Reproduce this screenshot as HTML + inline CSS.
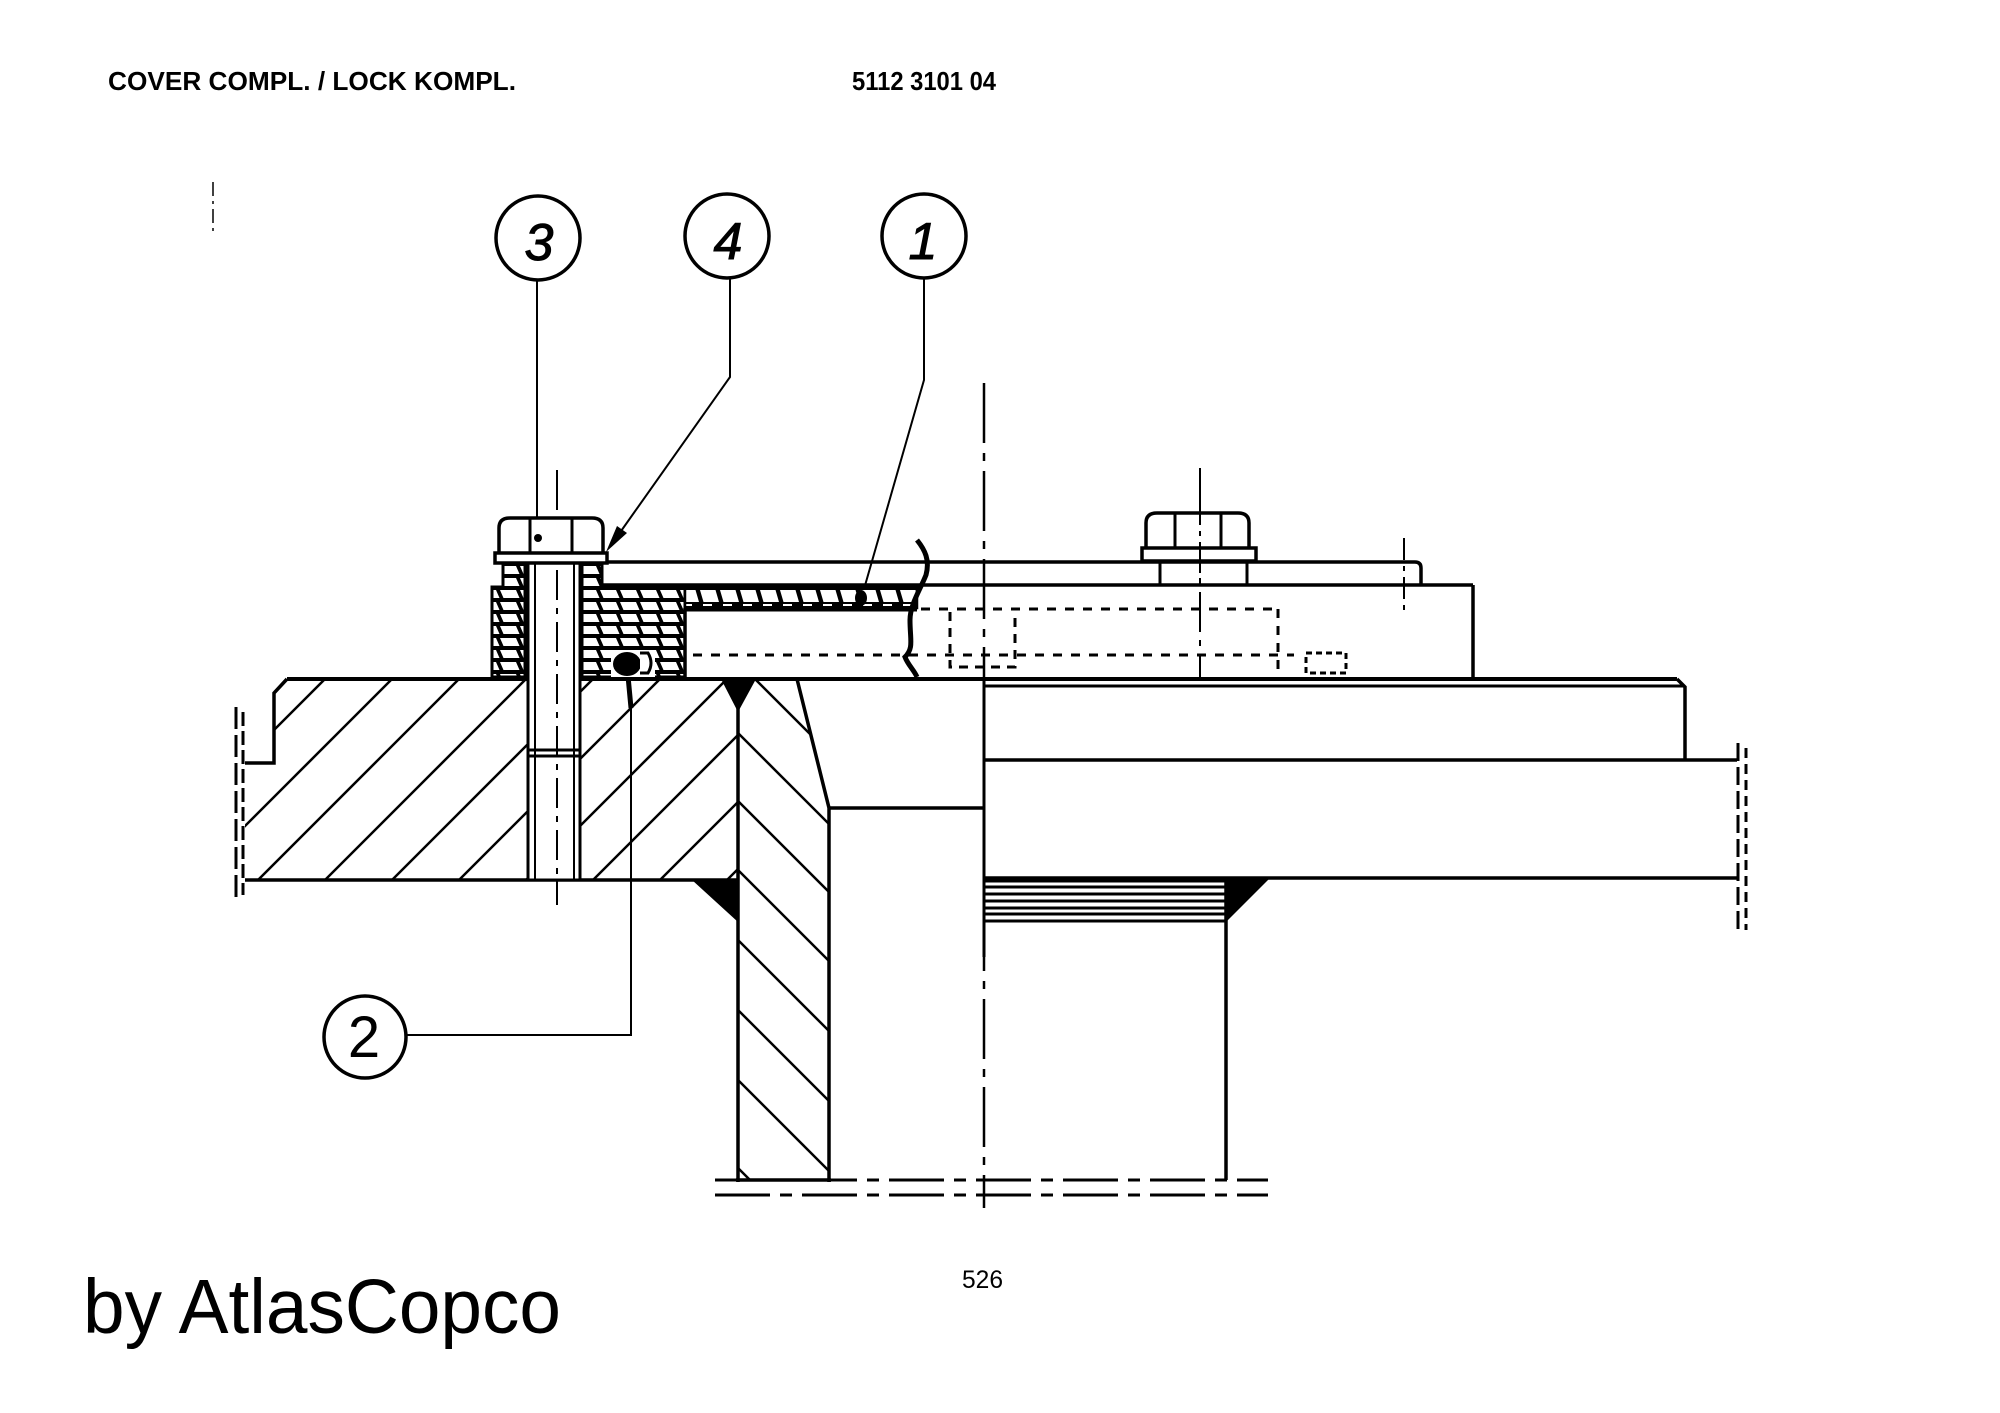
<!DOCTYPE html>
<html><head><meta charset="utf-8"><style>
html,body{margin:0;padding:0;background:#fff;}
svg{display:block;}
</style></head><body>
<svg width="2000" height="1413" viewBox="0 0 2000 1413" xmlns="http://www.w3.org/2000/svg">
<defs>
  <pattern id="xh" width="20" height="12" patternUnits="userSpaceOnUse">
    <rect width="20" height="12" fill="#000"/>
    <polygon points="0,2 16,2 19.5,10 3.5,10" fill="#fff"/>
  </pattern>
  <pattern id="xs" width="20" height="23" patternUnits="userSpaceOnUse" y="585">
    <rect width="20" height="23" fill="#000"/>
    <polygon points="0,5 15.5,5 19,17 3.5,17" fill="#fff"/>
    <rect x="3" y="19" width="9" height="2" fill="#fff"/>
  </pattern>
  <clipPath id="flc"><path d="M245,763 H274 V693 L287,680 H528 V880 H245 Z M580,680 H738 V880 H580 Z"/></clipPath>
  <clipPath id="pwc"><path d="M738,680 H797 L829,808 V1180 H738 Z"/></clipPath>
</defs>
<rect width="2000" height="1413" fill="#fff"/>

<!-- header text -->
<text x="108" y="90" font-family="Liberation Sans, Arial, sans-serif" font-weight="bold" font-size="26" textLength="408" lengthAdjust="spacingAndGlyphs">COVER COMPL. / LOCK KOMPL.</text>
<text x="852" y="90" font-family="Liberation Sans, Arial, sans-serif" font-weight="bold" font-size="26" textLength="144" lengthAdjust="spacingAndGlyphs">5112 3101 04</text>

<!-- footer text -->
<text x="962" y="1288" font-family="Liberation Sans, Arial, sans-serif" font-size="25" textLength="41" lengthAdjust="spacingAndGlyphs">526</text>
<text x="83" y="1333" font-family="Liberation Sans, Arial, sans-serif" font-size="77" textLength="478" lengthAdjust="spacingAndGlyphs">by AtlasCopco</text>

<g fill="none" stroke="#000" stroke-linecap="butt">
  <!-- small top-left centre mark -->
  <line x1="213" y1="182" x2="213" y2="232" stroke-width="1.5" stroke-dasharray="14 5 3 5"/>

  <!-- balloons -->
  <circle cx="538" cy="238" r="42" stroke-width="3.5"/>
  <circle cx="727" cy="236" r="42" stroke-width="3.5"/>
  <circle cx="924" cy="236" r="42" stroke-width="3.5"/>
  <circle cx="365" cy="1037" r="41" stroke-width="3.5"/>

  <!-- leaders -->
  <line x1="537" y1="280" x2="537" y2="538" stroke-width="2"/>
  <polyline points="730,278 730,377 614,541" stroke-width="2"/>
  <polyline points="924,279 924,380 862,596" stroke-width="2"/>
  <polyline points="406,1035 631,1035 631,705" stroke-width="2"/>
  <line x1="628" y1="676" x2="631" y2="708" stroke-width="5"/>

  <!-- centre lines -->
  <line x1="984" y1="383" x2="984" y2="1208" stroke-width="2.5" stroke-dasharray="60 10 8 10"/>
  <line x1="984" y1="678" x2="984" y2="957" stroke-width="3"/>
  <line x1="557" y1="470" x2="557" y2="905" stroke-width="2" stroke-dasharray="40 8 6 8"/>
  <line x1="1200" y1="468" x2="1200" y2="677" stroke-width="2" stroke-dasharray="40 8 6 8"/>
  <line x1="1404" y1="538" x2="1404" y2="610" stroke-width="2" stroke-dasharray="22 6 5 6"/>

  <!-- flange hatching -->
  <g clip-path="url(#flc)" stroke-width="2.5">
    <line x1="324" y1="680" x2="124" y2="880"/>
    <line x1="391" y1="680" x2="191" y2="880"/>
    <line x1="458" y1="680" x2="258" y2="880"/>
    <line x1="525" y1="680" x2="325" y2="880"/>
    <line x1="592" y1="680" x2="392" y2="880"/>
    <line x1="659" y1="680" x2="459" y2="880"/>
    <line x1="726" y1="680" x2="526" y2="880"/>
    <line x1="793" y1="680" x2="593" y2="880"/>
    <line x1="860" y1="680" x2="660" y2="880"/>
    <line x1="927" y1="680" x2="727" y2="880"/>
  </g>
  <!-- pipe wall hatching -->
  <g clip-path="url(#pwc)" stroke-width="2.5">
    <line x1="700" y1="624" x2="900" y2="824"/>
    <line x1="700" y1="695" x2="900" y2="895"/>
    <line x1="700" y1="763" x2="900" y2="963"/>
    <line x1="700" y1="832" x2="900" y2="1032"/>
    <line x1="700" y1="902" x2="900" y2="1102"/>
    <line x1="700" y1="972" x2="900" y2="1172"/>
    <line x1="700" y1="1042" x2="900" y2="1242"/>
    <line x1="700" y1="1130" x2="900" y2="1330"/>
  </g>

  <!-- flange outline -->
  <path d="M245,763 H274 V693 L287,679" stroke-width="3.5"/>
  <line x1="287" y1="679" x2="1677" y2="679" stroke-width="4"/>
  <polyline points="1677,679 1685,687 1685,760" stroke-width="3.5"/>
  <line x1="245" y1="880" x2="738" y2="880" stroke-width="3.5"/>
  <line x1="236" y1="707" x2="236" y2="898" stroke-width="3" stroke-dasharray="22 6"/>
  <line x1="243" y1="712" x2="243" y2="895" stroke-width="3" stroke-dasharray="14 5"/>

  <!-- pipe wall -->
  <line x1="738" y1="679" x2="738" y2="1182" stroke-width="3.5"/>
  <polyline points="797,679 829,808 829,1182" stroke-width="3.5"/>
  <line x1="829" y1="808" x2="984" y2="808" stroke-width="3.5"/>
  <line x1="736" y1="1180" x2="831" y2="1180" stroke-width="3.5"/>
  <line x1="715" y1="1180" x2="1268" y2="1180" stroke-width="3" stroke-dasharray="55 10 12 10"/>
  <line x1="715" y1="1195" x2="1268" y2="1195" stroke-width="3" stroke-dasharray="55 10 12 10"/>
  <line x1="1226" y1="878" x2="1226" y2="1180" stroke-width="3.5"/>

  <!-- plates on right -->
  <line x1="984" y1="686" x2="1685" y2="686" stroke-width="3"/>
  <line x1="984" y1="760" x2="1737" y2="760" stroke-width="3.5"/>
  <line x1="984" y1="878" x2="1737" y2="878" stroke-width="3.5"/>
  <line x1="1738" y1="743" x2="1738" y2="935" stroke-width="3" stroke-dasharray="18 6"/>
  <line x1="1746" y1="748" x2="1746" y2="930" stroke-width="3" stroke-dasharray="10 6"/>

  <!-- threaded region -->
  <g stroke-width="3">
    <line x1="984" y1="881" x2="1226" y2="881"/>
    <line x1="984" y1="887" x2="1226" y2="887"/>
    <line x1="984" y1="894" x2="1226" y2="894"/>
    <line x1="984" y1="901" x2="1226" y2="901"/>
    <line x1="984" y1="908" x2="1226" y2="908"/>
    <line x1="984" y1="914" x2="1226" y2="914"/>
    <line x1="984" y1="921" x2="1226" y2="921"/>
  </g>

  <!-- cover top plate -->
  <line x1="604" y1="562" x2="1415" y2="562" stroke-width="3.5"/>
  <path d="M1415,562 Q1421,562 1421,568 V585" stroke-width="3.5"/>
  <line x1="602" y1="585" x2="1473" y2="585" stroke-width="3.5"/>
  <line x1="1473" y1="585" x2="1473" y2="679" stroke-width="3.5"/>
</g>

<!-- welds -->
<polygon points="721,679 756,679 738,712" fill="#000"/>
<polygon points="692,880 738,880 738,922" fill="#000"/>
<polygon points="1226,878 1270,878 1226,922" fill="#000"/>

<!-- cross-hatched blocks (item 4) -->
<path d="M503,563 H525 V677 H492 V587 H503 Z" fill="url(#xh)" stroke="#000" stroke-width="3"/>
<path d="M582,563 H602 V585 H685 V677 H582 Z" fill="url(#xh)" stroke="#000" stroke-width="3"/>
<!-- thin hatched strip (item 1) -->
<rect x="685" y="585" width="232" height="23" fill="url(#xs)" stroke="#000" stroke-width="2.5"/>
<!-- inner plate box -->
<g fill="none" stroke="#000">
  <line x1="685" y1="608" x2="685" y2="679" stroke-width="3.5"/>
  <line x1="685" y1="610" x2="917" y2="610" stroke-width="3"/>
  <line x1="693" y1="655" x2="1294" y2="655" stroke-width="3" stroke-dasharray="9 9"/>
  <line x1="921" y1="609" x2="1278" y2="609" stroke-width="3" stroke-dasharray="9 9"/>
  <line x1="1278" y1="609" x2="1278" y2="670" stroke-width="3" stroke-dasharray="9 8"/>
  <path d="M950,612 V667 H1015 V612" stroke-width="3" stroke-dasharray="9 7"/>
  <rect x="1306" y="653" width="40" height="20" stroke-width="3" stroke-dasharray="6 4"/>
  <!-- wavy break line -->
  <path d="M917,540 C925,550 930,560 926,575 C920,590 910,605 910,620 C910,640 914,648 905,657 C908,665 914,670 917,677" stroke-width="5"/>
</g>

<!-- O-ring (item 2) -->
<rect x="611" y="650" width="44" height="27" fill="#fff"/>
<ellipse cx="627" cy="664" rx="14" ry="12" fill="#000"/>
<path d="M640,653 H648 Q654,663 648,673 H640" fill="#fff" stroke="#000" stroke-width="3"/>

<!-- bolt 1 -->
<g fill="none" stroke="#000">
  <rect x="528" y="563" width="52" height="317" fill="#fff" stroke-width="3"/>
  <line x1="535" y1="563" x2="535" y2="880" stroke-width="2"/>
  <line x1="574" y1="563" x2="574" y2="880" stroke-width="2"/>
  <line x1="528" y1="750" x2="580" y2="750" stroke-width="3"/>
  <line x1="528" y1="756" x2="580" y2="756" stroke-width="3"/>
  <line x1="557" y1="570" x2="557" y2="905" stroke-width="2" stroke-dasharray="30 8 6 8"/>
  <path d="M499,553 V528 Q499,518 510,518 H592 Q603,518 603,528 V553" fill="#fff" stroke-width="3.5"/>
  <line x1="530" y1="518" x2="530" y2="553" stroke-width="3"/>
  <line x1="572" y1="518" x2="572" y2="553" stroke-width="3"/>
  <rect x="495" y="553" width="112" height="10" fill="#fff" stroke-width="3.5"/>
</g>
<circle cx="538" cy="538" r="4" fill="#000"/>

<!-- bolt 2 -->
<g fill="none" stroke="#000">
  <line x1="1160" y1="562" x2="1160" y2="585" stroke-width="3"/>
  <line x1="1247" y1="562" x2="1247" y2="585" stroke-width="3"/>
  <path d="M1146,548 V523 Q1146,513 1157,513 H1238 Q1249,513 1249,523 V548" fill="#fff" stroke-width="3.5"/>
  <line x1="1175" y1="513" x2="1175" y2="548" stroke-width="3"/>
  <line x1="1221" y1="513" x2="1221" y2="548" stroke-width="3"/>
  <rect x="1142" y="548" width="114" height="13" fill="#fff" stroke-width="3.5"/>
  <line x1="1200" y1="505" x2="1200" y2="585" stroke-width="2" stroke-dasharray="20 6 5 6"/>
</g>

<!-- arrowheads -->
<polygon points="606,552 627,533 617,526" fill="#000"/>
<ellipse cx="861" cy="598" rx="6" ry="8" fill="#000"/>

<!-- balloon numbers -->
<g font-family="Liberation Sans, Arial, sans-serif" font-style="italic" font-size="52" text-anchor="middle" fill="#000" stroke="#000" stroke-width="1">
  <text x="539" y="260">3</text>
  <text x="728" y="259">4</text>
  <text x="923" y="259">1</text>
</g>
<text x="364" y="1057" font-family="Liberation Sans, Arial, sans-serif" font-size="58" text-anchor="middle" fill="#000">2</text>
</svg>
</body></html>
